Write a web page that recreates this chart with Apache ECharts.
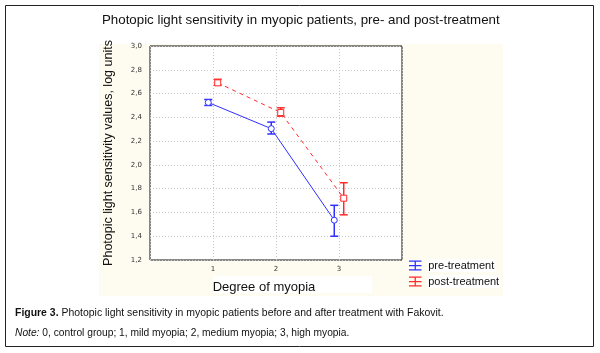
<!DOCTYPE html>
<html>
<head>
<meta charset="utf-8">
<script src="https://cdn.jsdelivr.net/npm/echarts@6/dist/echarts.min.js"></script>
<style>
html, body { margin: 0; padding: 0; background: #fff; }
#chart { width: 600px; height: 353px; }
</style>
</head>
<body>
<div id="chart"></div>
<script>
// degree of myopia
const degrees = [1, 2, 3]
const yTicks = [1.2, 1.4, 1.6, 1.8, 2.0, 2.2, 2.4, 2.6, 2.8, 3.0]

// pre-treatment mean and error limits
const preMean = [2.525, 2.305, 1.535]
const preLow = [2.50, 2.26, 1.40]
const preHigh = [2.55, 2.36, 1.66]

// post-treatment mean and error limits
const postMean = [2.69, 2.44, 1.72]
const postLow = [2.67, 2.41, 1.58]
const postHigh = [2.72, 2.48, 1.85]

const preColor = "#2f2fff"
const postColor = "#ff2a2a"
const shift = 0.075

const chart = echarts.init(document.getElementById("chart"))

const lineSeries = (name, mean, dx, color, dashed, symbol) => ({
	name,
	type: "line",
	data: degrees.map((d, i) => [d + dx, mean[i]]),
	symbol,
	symbolSize: 6,
	showSymbol: true,
	lineStyle: { color, width: 1, type: dashed ? [4, 4] : "solid" },
	itemStyle: { color: "#fff", borderColor: color, borderWidth: 1 },
	z: 3,
})

const errorSeries = (name, low, high, dx, color) => ({
	name,
	type: "custom",
	data: degrees.map((d, i) => [d + dx, low[i], high[i]]),
	renderItem(params, api) {
		const top = api.coord([api.value(0), api.value(2)])
		const bot = api.coord([api.value(0), api.value(1)])
		const w = 4
		const style = { stroke: color, lineWidth: 1.5 }
		return {
			type: "group",
			children: [
				{ type: "line", shape: { x1: top[0], y1: top[1], x2: bot[0], y2: bot[1] }, style },
				{ type: "line", shape: { x1: top[0] - w, y1: top[1], x2: top[0] + w, y2: top[1] }, style },
				{ type: "line", shape: { x1: bot[0] - w, y1: bot[1], x2: bot[0] + w, y2: bot[1] }, style },
			],
		}
	},
	z: 2,
})

const barIcon = "path://M0,0H20V2H0Z M9,2H11V14H9Z M0,14H20V16H0Z M0,7H20V9H0Z"
const captionFont = "11px 'Liberation Sans', Arial, sans-serif"

chart.setOption({
	animation: false,
	graphic: [
		{ type: "rect", shape: { x: 5.5, y: 5.5, width: 588, height: 341 }, style: { fill: "#fff", stroke: "#222", lineWidth: 1 }, z: -10 },
		{ type: "rect", shape: { x: 99, y: 44, width: 404, height: 252 }, style: { fill: "#fefbf1" }, z: -9 },
		{ type: "rect", shape: { x: 213, y: 276, width: 159, height: 17 }, style: { fill: "#fff" }, z: -8 },
		{
			type: "text", left: 102, top: 14,
			style: { text: "Photopic light sensitivity in myopic patients, pre- and post-treatment", font: "13.3px 'Liberation Sans', Arial, sans-serif", fill: "#111" },
		},
		{
			type: "text", x: 15, y: 307, scaleX: 0.95,
			style: {
				rich: {
					b: { font: "bold " + captionFont, fill: "#111" },
					n: { font: captionFont, fill: "#111" },
				},
				text: "{b|Figure 3.}{n| Photopic light sensitivity in myopic patients before and after treatment with Fakovit.}",
			},
		},
		{
			type: "text", x: 15, y: 327, scaleX: 0.93,
			style: {
				rich: {
					i: { font: "italic " + captionFont, fill: "#111" },
					n: { font: captionFont, fill: "#111" },
				},
				text: "{i|Note:}{n| 0, control group; 1, mild myopia; 2, medium myopia; 3, high myopia.}",
			},
		},
	],
	grid: {
		left: 150, top: 46, right: 198, bottom: 93,
		show: true, backgroundColor: "#fff", borderColor: "#111", borderWidth: 1,
	},
	legend: {
		orient: "vertical",
		left: 404, top: 254,
		itemGap: 3,
		itemWidth: 14, itemHeight: 10,
		data: [
			{ name: "pre-treatment", icon: barIcon, itemStyle: { color: preColor } },
			{ name: "post-treatment", icon: barIcon, itemStyle: { color: postColor } },
		],
		textStyle: { fontFamily: "'Liberation Sans', Arial, sans-serif", fontSize: 11, color: "#111", backgroundColor: "#fff", padding: [1, 1] },
	},
	xAxis: {
		type: "value",
		min: 0, max: 4, interval: 1,
		name: "Degree of myopia",
		nameLocation: "middle",
		nameGap: 21,
		nameTextStyle: { fontFamily: "'Liberation Sans', Arial, sans-serif", fontSize: 13, color: "#111", padding: [0, 0, 0, -24] },
		axisLine: { show: false },
		axisTick: { show: false },
		axisLabel: {
			fontFamily: "'DejaVu Sans', Verdana, sans-serif", fontSize: 7, color: "#333", margin: 6,
			formatter: v => (degrees.indexOf(v) >= 0 ? String(v) : ""),
		},
		splitLine: { show: true, lineStyle: { color: "#c8c8c8", type: [1, 2] } },
	},
	yAxis: {
		type: "value",
		min: 1.2, max: 3.0, interval: 0.2,
		name: "Photopic light sensitivity values, log units",
		nameLocation: "middle",
		nameGap: 35,
		nameTextStyle: { fontFamily: "'Liberation Sans', Arial, sans-serif", fontSize: 12.5, color: "#111" },
		axisLine: { show: false },
		axisTick: { show: false },
		axisLabel: {
			fontFamily: "'DejaVu Sans', Verdana, sans-serif", fontSize: 7, color: "#333", margin: 8,
			formatter: v => {
				const t = yTicks.find(k => Math.abs(k - v) < 1e-6)
				return t === undefined ? "" : t.toFixed(1).replace(".", ",")
			},
		},
		splitLine: { show: true, lineStyle: { color: "#c8c8c8", type: [1, 2] } },
	},
	series: [
		errorSeries("pre-treatment", preLow, preHigh, -shift, preColor),
		errorSeries("post-treatment", postLow, postHigh, shift, postColor),
		lineSeries("pre-treatment", preMean, -shift, preColor, false, "circle"),
		lineSeries("post-treatment", postMean, shift, postColor, true, "rect"),
	],
})
</script>
</body>
</html>
